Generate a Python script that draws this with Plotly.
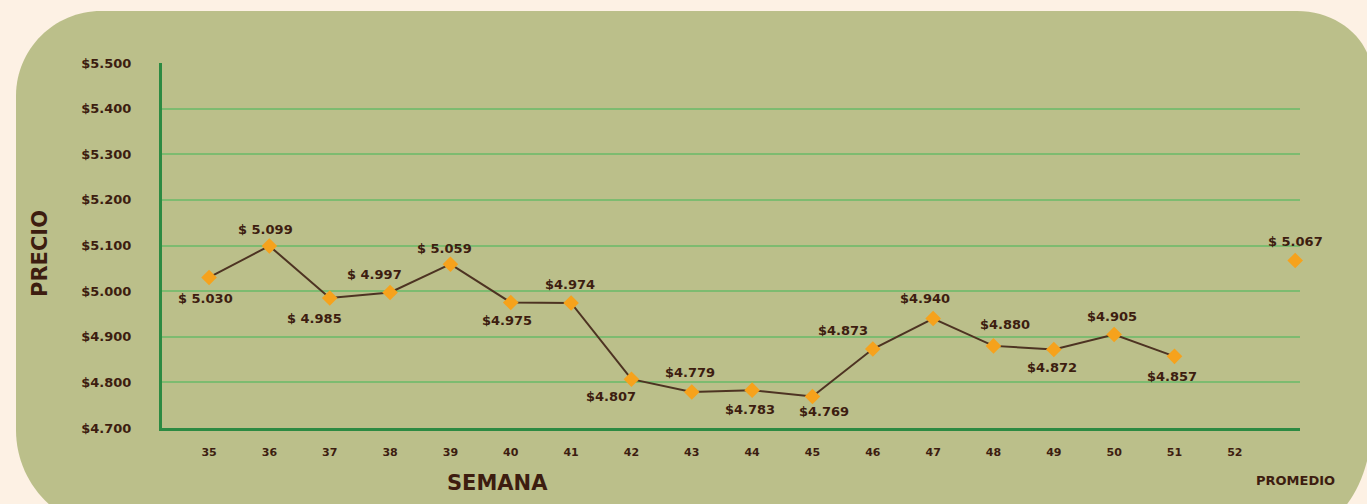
import plotly.graph_objects as go

# ---------------- data ----------------
weeks = ["35", "36", "37", "38", "39", "40", "41", "42", "43",
         "44", "45", "46", "47", "48", "49", "50", "51", "52"]
week_prices = [5030, 5099, 4985, 4997, 5059, 4975, 4974, 4807, 4779,
               4783, 4769, 4873, 4940, 4880, 4872, 4905, 4857]
avg_label = "PROMEDIO"
avg_price = 5067
y_ticks = [4700, 4800, 4900, 5000, 5100, 5200, 5300, 5400, 5500]
spaced = [True, True, True, True, True] + [False] * 12

# label offsets in pixels (style, not data)
label_dx = [-4, -4, -15, -16, -6, -4, -1, -20, -2, -2, 12, -30, -8, 12, -2, -2, -2]
label_dy = [-21, 16, -21, 18, 16, -18, 18, -17, 19, -19, -15, 19, 20, 21, -18, 18, -20]

def money(v, space=False):
    s = f"{v:,}".replace(",", ".")
    return ("$ " if space else "$") + s

week_text = [money(v, sp) for v, sp in zip(week_prices, spaced)]
categories = weeks + [avg_label]

# ---------------- style ----------------
W, H = 1367, 504
L, R, T, B = 162, 1300, 63, 428
BROWN = "#3d1d10"
LINE = "#4d3322"
ORANGE = "#f6a21c"
OLIVE = "#bbbf8a"
CREAM = "#fdf1e4"
GRID = "#7dbb70"
AXIS = "#2c8a42"
FONT = "DejaVu Sans"

def px(x):
    return (x - L) / (R - L)

def py(y):
    return (B - y) / (B - T)

def P(x, y):
    return f"{px(x)},{py(y)}"

def panel_path(x0, y0, x1, y1, tl, tr, br, bl):
    k = 0.5523
    (tlx, tly), (trx, try_), (brx, bry), (blx, bly) = tl, tr, br, bl
    parts = [
        f"M {P(x0 + tlx, y0)}",
        f"L {P(x1 - trx, y0)}",
        f"C {P(x1 - trx + k * trx, y0)} {P(x1, y0 + try_ - k * try_)} {P(x1, y0 + try_)}",
        f"L {P(x1, y1 - bry)}",
        f"C {P(x1, y1 - bry + k * bry)} {P(x1 - brx + k * brx, y1)} {P(x1 - brx, y1)}",
        f"L {P(x0 + blx, y1)}",
        f"C {P(x0 + blx - k * blx, y1)} {P(x0, y1 - bly + k * bly)} {P(x0, y1 - bly)}",
        f"L {P(x0, y0 + tly)}",
        f"C {P(x0, y0 + tly - k * tly)} {P(x0 + tlx - k * tlx, y0)} {P(x0 + tlx, y0)}",
        "Z",
    ]
    return " ".join(parts)

fig = go.Figure()

fig.add_trace(go.Scatter(
    x=weeks[:len(week_prices)], y=week_prices,
    mode="lines+markers",
    line=dict(color=LINE, width=2),
    marker=dict(symbol="diamond", size=12, color=ORANGE),
    cliponaxis=False, showlegend=False, hoverinfo="x+y",
))

fig.add_trace(go.Scatter(
    x=[avg_label], y=[avg_price],
    mode="markers",
    marker=dict(symbol="diamond", size=12, color=ORANGE),
    cliponaxis=False, showlegend=False, hoverinfo="y",
))

label_font = dict(family=FONT, size=13, color=BROWN, weight="bold")
# on a category axis, annotations are placed by category index
annotations = [
    dict(x=categories.index(w), y=v, xref="x", yref="y", text=t, showarrow=False,
         xanchor="center", yanchor="middle", xshift=dx, yshift=dy, font=label_font)
    for w, v, t, dx, dy in zip(weeks, week_prices, week_text, label_dx, label_dy)
]
annotations.append(dict(x=categories.index(avg_label), y=avg_price, xref="x", yref="y",
                        text=money(avg_price, True), showarrow=False,
                        xanchor="center", yanchor="middle", yshift=19, font=label_font))
annotations += [
    dict(text="PRECIO", xref="paper", yref="paper", x=px(40), y=py(254),
         xanchor="center", yanchor="middle", textangle=-90, showarrow=False,
         font=dict(family=FONT, size=21, color=BROWN, weight="bold")),
    dict(text="SEMANA", xref="paper", yref="paper", x=px(497), y=py(483),
         xanchor="center", yanchor="middle", showarrow=False,
         font=dict(family=FONT, size=21, color=BROWN, weight="bold")),
    dict(text=avg_label, xref="x", yref="paper", x=categories.index(avg_label), y=py(480),
         xanchor="center", yanchor="middle", showarrow=False,
         font=dict(family=FONT, size=13, color=BROWN, weight="bold")),
]

fig.update_layout(
    width=W, height=H,
    margin=dict(l=L, r=W - R, t=T, b=H - B, pad=0),
    paper_bgcolor=CREAM, plot_bgcolor="rgba(0,0,0,0)",
    font=dict(family=FONT, color=BROWN),
    shapes=[dict(type="path", xref="paper", yref="paper", layer="below",
                 path=panel_path(16, 11, 1372, 530, (85, 85), (75, 65), (70, 110), (100, 100)),
                 fillcolor=OLIVE, line=dict(width=0))],
    xaxis=dict(
        type="category", categoryorder="array", categoryarray=categories,
        tickvals=categories, ticktext=weeks + [""],
        range=[-0.78, 18.08], showgrid=False, zeroline=False,
        showline=True, linecolor=AXIS, linewidth=3,
        ticks="", ticklabelstandoff=12,
        tickfont=dict(family=FONT, size=11, color=BROWN, weight="bold"),
    ),
    yaxis=dict(
        range=[4700, 5500], tickvals=y_ticks,
        ticktext=[money(v, False) for v in y_ticks],
        showgrid=True, gridcolor=GRID, gridwidth=1.5, zeroline=False,
        showline=True, linecolor=AXIS, linewidth=3,
        ticks="", ticklabelstandoff=25,
        tickfont=dict(family=FONT, size=13, color=BROWN, weight="bold"),
    ),
    annotations=annotations,
)

fig.write_html(
    "out.html",
    config={"displayModeBar": False},
    post_script="document.body.style.margin='0';document.body.style.background='" + CREAM + "';",
)
